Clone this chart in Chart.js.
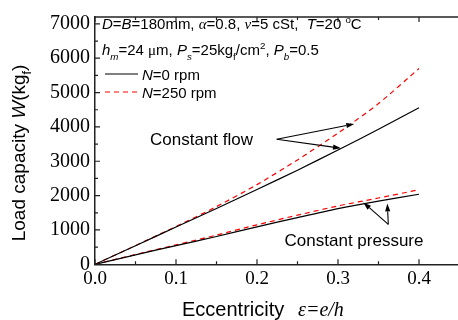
<!DOCTYPE html>
<html>
<head>
<meta charset="utf-8">
<script src="https://cdn.jsdelivr.net/npm/chart.js@4.4.1/dist/chart.umd.min.js"></script>
<style>
  html, body { margin: 0; padding: 0; background: #fff; overflow: hidden; }
  #wrap { width: 458px; height: 320px; overflow: hidden; }
</style>
</head>
<body>
<div id="wrap"><canvas id="loadChart" width="462" height="320"></canvas></div>
<script>
// eccentricity e/h and load capacity W (kgf)
const eccentricity = [0, 0.05, 0.1, 0.15, 0.2, 0.25, 0.3, 0.35, 0.4];
const flowN0 = [0, 540, 1085, 1625, 2180, 2740, 3330, 3930, 4560];
const flowN250 = [0, 545, 1100, 1680, 2320, 3040, 3820, 4680, 5700];
const pressN0 = [0, 275, 545, 810, 1090, 1360, 1620, 1840, 2040];
const pressN250 = [0, 285, 565, 850, 1150, 1430, 1700, 1930, 2170];

const xTicks = [0, 0.1, 0.2, 0.3, 0.4];
const yTicks = [0, 1000, 2000, 3000, 4000, 5000, 6000, 7000];

// annotation anchors in data units: [label x, label y], arrow start, arrow tips
const flowLabel = [0.1315, 3606];
const flowArrowFrom = [0.2243, 3643];
const flowArrowTips = [[0.3201, 4088], [0.3037, 3380]];
const pressLabel = [0.3198, 660];
const pressArrowFrom = [0.3621, 1161];
const pressArrowTips = [[0.3312, 1802], [0.3609, 1773]];

const SANS = '"Liberation Sans", Arial, sans-serif';
const SERIF = '"Liberation Serif", "Times New Roman", serif';
const AXIS = '#222';

const toXY = arr => eccentricity.map((e, i) => ({ x: e, y: arr[i] }));

function drawRich(ctx, x, y, parts, size, measureOnly) {
  let cx = x;
  parts.forEach(p => {
    const s = (p.sub || p.sup) ? size * 0.65 : size;
    ctx.font = `${p.i ? 'italic ' : ''}${s}px ${p.serif ? SERIF : SANS}`;
    const dy = p.sub ? size * 0.32 : p.sup ? -size * 0.42 : 0;
    if (!measureOnly) ctx.fillText(p.t, cx, y + dy);
    cx += ctx.measureText(p.t).width;
  });
  return cx - x;
}

function arrow(ctx, x1, y1, x2, y2) {
  const a = Math.atan2(y2 - y1, x2 - x1);
  const len = 8, half = 2.6;
  const bx = x2 - len * Math.cos(a), by = y2 - len * Math.sin(a);
  ctx.beginPath();
  ctx.moveTo(x1, y1);
  ctx.lineTo(bx, by);
  ctx.stroke();
  ctx.beginPath();
  ctx.moveTo(x2, y2);
  ctx.lineTo(bx + half * Math.sin(a), by - half * Math.cos(a));
  ctx.lineTo(bx - half * Math.sin(a), by + half * Math.cos(a));
  ctx.closePath();
  ctx.fill();
}

const decorPlugin = {
  id: 'decor',
  afterDraw(chart) {
    const { ctx, chartArea: ca, scales: { x, y } } = chart;
    ctx.save();
    ctx.strokeStyle = AXIS;
    ctx.fillStyle = '#000';
    ctx.lineWidth = 1.5;

    // top frame line
    ctx.beginPath();
    ctx.moveTo(ca.left, ca.top);
    ctx.lineTo(ca.right, ca.top);
    ctx.stroke();

    // inward ticks, major and minor
    ctx.lineWidth = 1.2;
    ctx.beginPath();
    for (let v = 0; v <= 0.4501; v += 0.05) {
      const px = x.getPixelForValue(v);
      const major = Math.abs(v * 10 - Math.round(v * 10)) < 1e-6;
      const l = major ? 5 : 3;
      ctx.moveTo(px, ca.bottom); ctx.lineTo(px, ca.bottom - l);
      ctx.moveTo(px, ca.top); ctx.lineTo(px, ca.top + l);
    }
    for (let v = 0; v <= 7000; v += 500) {
      const py = y.getPixelForValue(v);
      const l = v % 1000 === 0 ? 5 : 3;
      ctx.moveTo(ca.left, py); ctx.lineTo(ca.left + l, py);
    }
    ctx.stroke();

    // axis titles
    ctx.textBaseline = 'alphabetic';
    ctx.textAlign = 'left';
    drawRich(ctx, 182, 316, [{ t: 'Eccentricity' }], 20);
    drawRich(ctx, 298, 316, [{ t: 'ε=e/h', i: true, serif: true }], 20);

    const yTitle = [{ t: 'Load capacity ' }, { t: 'W', i: true }, { t: '(kg' }, { t: 'f', sub: true }, { t: ')' }];
    const w = drawRich(ctx, 0, 0, yTitle, 19, true);
    ctx.save();
    ctx.translate(25, 153);
    ctx.rotate(-Math.PI / 2);
    drawRich(ctx, -w / 2, 0, yTitle, 19);
    ctx.restore();

    // parameter text and legend
    drawRich(ctx, 102, 29, [
      { t: 'D', i: true }, { t: '=' }, { t: 'B', i: true }, { t: '=180mm, ' },
      { t: 'α', i: true, serif: true }, { t: '=0.8, ' }, { t: 'ν', i: true, serif: true },
      { t: '=5 cSt,  ' }, { t: 'T', i: true }, { t: '=20 ' }, { t: 'o', sup: true }, { t: 'C' }
    ], 15);
    drawRich(ctx, 102, 55, [
      { t: 'h', i: true }, { t: 'm', i: true, sub: true }, { t: '=24 ' }, { t: 'μ', serif: true }, { t: 'm, ' },
      { t: 'P', i: true }, { t: 's', i: true, sub: true }, { t: '=25kg' }, { t: 'f', sub: true },
      { t: '/cm' }, { t: '2', sup: true }, { t: ', ' },
      { t: 'P', i: true }, { t: 'b', i: true, sub: true }, { t: '=0.5' }
    ], 15);

    ctx.lineWidth = 1.2;
    ctx.strokeStyle = '#000';
    ctx.setLineDash([]);
    ctx.beginPath(); ctx.moveTo(105, 74); ctx.lineTo(138, 74); ctx.stroke();
    ctx.strokeStyle = '#ff0000';
    ctx.setLineDash([5, 4]);
    ctx.beginPath(); ctx.moveTo(105, 92); ctx.lineTo(138, 92); ctx.stroke();
    ctx.setLineDash([]);
    drawRich(ctx, 142, 80, [{ t: 'N', i: true }, { t: '=0 rpm' }], 15);
    drawRich(ctx, 142, 98, [{ t: 'N', i: true }, { t: '=250 rpm' }], 15);

    // annotations
    ctx.font = `17px ${SANS}`;
    ctx.textAlign = 'center';
    ctx.textBaseline = 'middle';
    ctx.fillText('Constant flow', x.getPixelForValue(flowLabel[0]), y.getPixelForValue(flowLabel[1]));
    ctx.fillText('Constant pressure', x.getPixelForValue(pressLabel[0]), y.getPixelForValue(pressLabel[1]));

    ctx.strokeStyle = '#000';
    ctx.fillStyle = '#000';
    ctx.lineWidth = 1.1;
    [[flowArrowFrom, flowArrowTips], [pressArrowFrom, pressArrowTips]].forEach(([from, tips]) => {
      const fx = x.getPixelForValue(from[0]), fy = y.getPixelForValue(from[1]);
      tips.forEach(t => arrow(ctx, fx, fy, x.getPixelForValue(t[0]), y.getPixelForValue(t[1])));
    });
    ctx.restore();
  }
};

const lineSet = (label, arr, color, dashed) => ({
  label,
  data: toXY(arr),
  borderColor: color,
  borderWidth: 1.2,
  borderDash: dashed ? [5, 4] : [],
  pointRadius: 0,
  tension: 0.25,
  fill: false
});

new Chart(document.getElementById('loadChart').getContext('2d'), {
  type: 'line',
  data: {
    datasets: [
      lineSet('Flow N=0', flowN0, '#000', false),
      lineSet('Flow N=250', flowN250, '#ff0000', true),
      lineSet('Pressure N=0', pressN0, '#000', false),
      lineSet('Pressure N=250', pressN250, '#ff0000', true)
    ]
  },
  options: {
    responsive: false,
    animation: false,
    devicePixelRatio: 1,
    layout: { padding: { left: 0, top: 10, right: 2.5, bottom: 0 } },
    plugins: { legend: { display: false }, tooltip: { enabled: false } },
    scales: {
      x: {
        type: 'linear',
        min: 0,
        max: 0.45,
        afterFit: s => { s.height = 55.7; },
        afterBuildTicks: s => { s.ticks = xTicks.map(v => ({ value: v })); },
        grid: { display: false, drawTicks: false },
        border: { display: true, color: AXIS, width: 1.5 },
        ticks: {
          color: '#000',
          padding: 3,
          font: { family: SERIF, size: 19 },
          callback: v => v.toFixed(1)
        }
      },
      y: {
        min: 0,
        max: 7200,
        afterFit: s => { s.width = 95; },
        afterBuildTicks: s => { s.ticks = yTicks.map(v => ({ value: v })); },
        grid: { display: false, drawTicks: false },
        border: { display: true, color: AXIS, width: 1.5 },
        ticks: {
          color: '#000',
          padding: 5,
          font: { family: SERIF, size: 20 },
          callback: v => String(v)
        }
      }
    }
  },
  plugins: [decorPlugin]
});
</script>
</body>
</html>
